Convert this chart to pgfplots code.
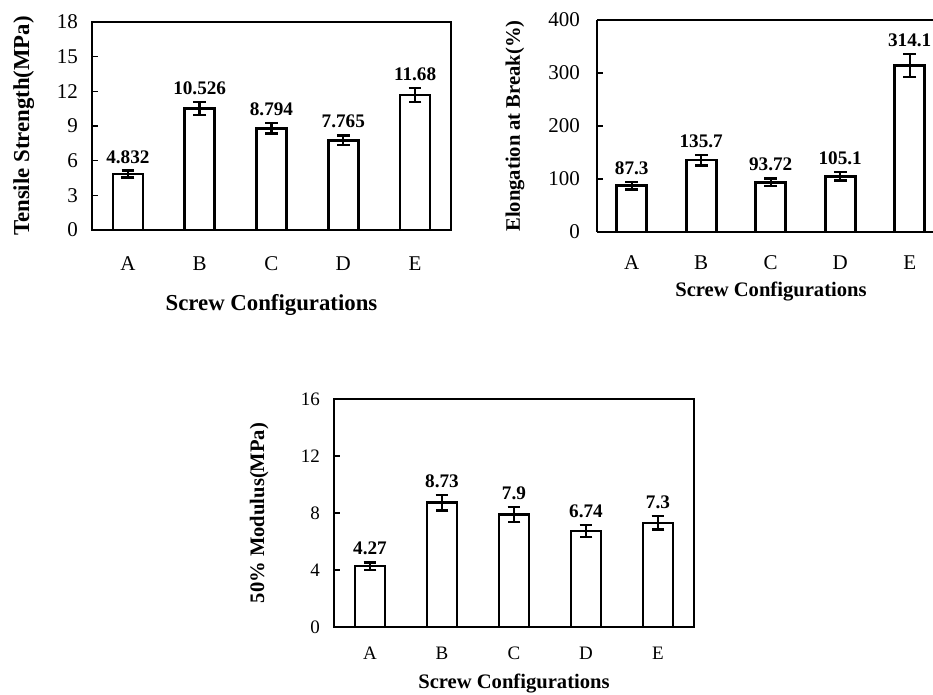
\documentclass[border=0pt]{standalone}
\usepackage{fontspec}
\setmainfont{Liberation Serif}
\usepackage{pgfplots}
\usepackage{pgfplotstable}
\pgfplotsset{compat=1.18}

% x = category index (A..E), y = mean, e = error, lab = printed value
\pgfplotstableread{
x y e lab
0 4.832 0.30 4.832
1 10.526 0.55 10.526
2 8.794 0.45 8.794
3 7.765 0.42 7.765
4 11.68 0.62 11.68
}\tensile
\pgfplotstableread{
x y e lab
0 87.3 7 87.3
1 135.7 10 135.7
2 93.72 7 93.72
3 105.1 8 105.1
4 314.1 22 314.1
}\elong
\pgfplotstableread{
x y e lab
0 4.27 0.26 4.27
1 8.73 0.55 8.73
2 7.9 0.53 7.9
3 6.74 0.42 6.74
4 7.3 0.47 7.3
}\modulus

\pgfplotsset{
  panel/.style={
    scale only axis,
    axis line style={line width=1.2pt},
    xmin=-0.5, xmax=4.5, ymin=0,
    xtick={0,...,4}, xticklabels={A,B,C,D,E},
    x tick style={draw=none},
    ytick pos=left, tick align=inside,
    y tick style={black, line width=0.6pt},
    major tick length=3pt,
    /pgf/number format/assume math mode=true,
  },
  bars/.style={
    ybar, bar width=15pt, fill=white, draw=black, line width=1.3pt,
    error bars/.cd, y dir=both, y explicit,
    error bar style={line width=1.2pt, black},
    error mark options={rotate=90, mark size=3.2pt, line width=1.2pt, black},
  },
  vals/.style={
    draw=none, mark=none, nodes near coords, point meta=explicit symbolic,
    nodes near coords style={font=\bfseries\fontsize{9.6}{11}\selectfont,
      text=black, anchor=south, inner sep=3.5pt},
  },
}

\begin{document}
\begin{tikzpicture}
\useasboundingbox (0,0) rectangle (466.5pt,347.5pt);

% top left: tensile strength
\begin{axis}[panel,
  at={(46pt,232.5pt)}, anchor=south west,
  width=179.5pt, height=104pt,
  ymax=18, ytick={0,3,...,18},
  tick label style={font=\fontsize{10.5}{12}\selectfont},
  xticklabel style={yshift=-10pt},
  yticklabel style={xshift=-3.5pt},
  xlabel={\bfseries Screw Configurations},
  ylabel={\bfseries Tensile Strength(MPa)},
  label style={font=\fontsize{11.4}{13}\selectfont},
  xlabel style={at={(axis description cs:0.5,-0.36)}, anchor=center},
  ylabel style={at={(axis description cs:-0.19,0.5)}, anchor=center, rotate=0},
]
\addplot[bars] table[x=x, y=y, y error=e] {\tensile};
\addplot[vals] table[x=x, y expr=\thisrow{y}+\thisrow{e}, meta=lab] {\tensile};
\end{axis}

% top right: elongation at break (cut off on the right in the original)
\begin{axis}[panel,
  at={(298.5pt,231.5pt)}, anchor=south west,
  width=168pt, height=106pt,
  xmax=4.335,
  axis x line*=box, axis y line*=left,
  ymax=400, ytick={0,100,...,400},
  tick label style={font=\fontsize{10.5}{12}\selectfont},
  xticklabel style={yshift=-8.5pt},
  yticklabel style={xshift=-5pt},
  xlabel={\bfseries Screw Configurations},
  ylabel={\bfseries Elongation at Break(\%)},
  label style={font=\fontsize{10.3}{12}\selectfont},
  xlabel style={at={(axis description cs:0.5,-0.283)}, anchor=center, xshift=3pt},
  ylabel style={at={(axis description cs:-0.244,0.5)}, anchor=center, rotate=0},
]
\addplot[bars] table[x=x, y=y, y error=e] {\elong};
\addplot[vals] table[x=x, y expr=\thisrow{y}+\thisrow{e}, meta=lab] {\elong};
\end{axis}

% bottom: 50% modulus
\begin{axis}[panel,
  at={(167pt,34pt)}, anchor=south west,
  width=180pt, height=114pt,
  ymax=16, ytick={0,4,...,16},
  tick label style={font=\fontsize{9.5}{11}\selectfont},
  xticklabel style={yshift=-6.5pt},
  yticklabel style={xshift=-3.5pt},
  xlabel={\bfseries Screw Configurations},
  ylabel={\bfseries 50\% Modulus(MPa)},
  label style={font=\fontsize{10.3}{12}\selectfont},
  xlabel style={at={(axis description cs:0.5,-0.246)}, anchor=center},
  ylabel style={at={(axis description cs:-0.208,0.5)}, anchor=center, rotate=0},
]
\addplot[bars] table[x=x, y=y, y error=e] {\modulus};
\addplot[vals] table[x=x, y expr=\thisrow{y}+\thisrow{e}, meta=lab] {\modulus};
\end{axis}
\end{tikzpicture}
\end{document}
